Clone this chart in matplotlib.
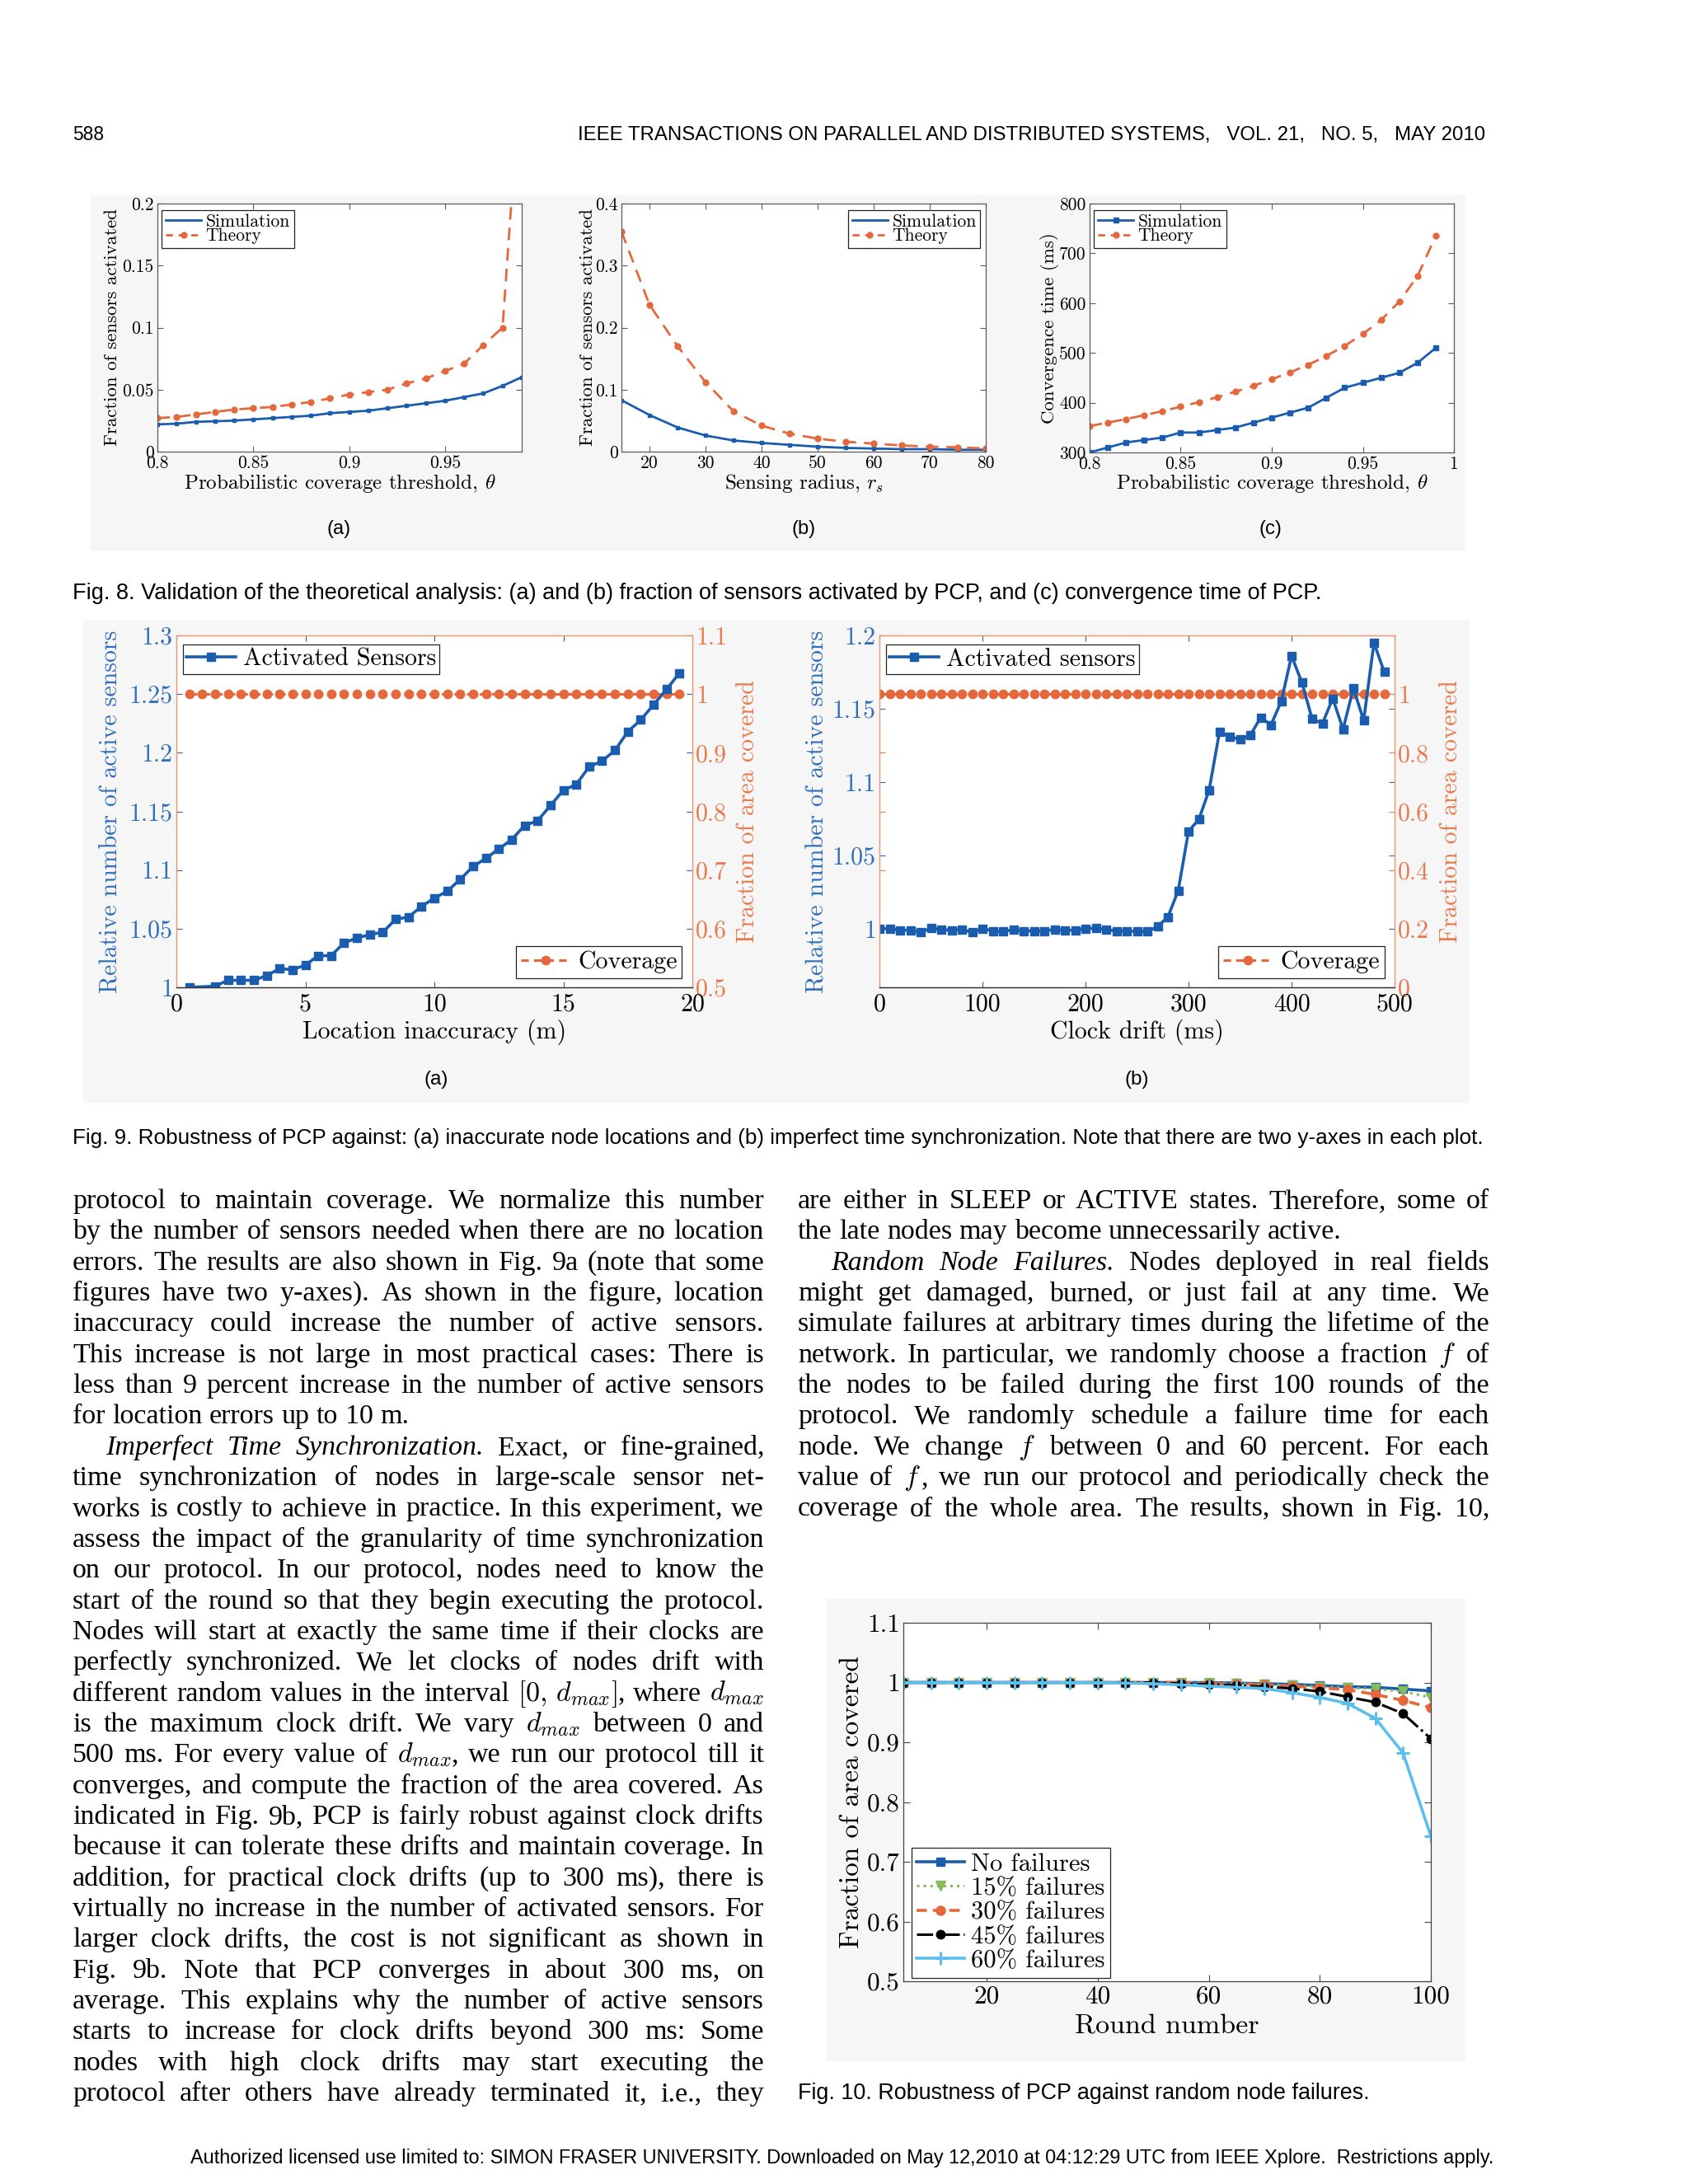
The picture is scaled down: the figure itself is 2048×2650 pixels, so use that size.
import re
import matplotlib
matplotlib.use("Agg")
import matplotlib.pyplot as plt
from matplotlib.transforms import IdentityTransform
from matplotlib.ticker import FuncFormatter
from matplotlib.patches import Rectangle

W, H = 2048, 2650
plt.rcParams['mathtext.fontset'] = 'cm'
plt.rcParams['font.family'] = 'cmr10'
plt.rcParams['axes.formatter.use_mathtext'] = True
plt.rcParams['axes.unicode_minus'] = False

# ---------------- data ----------------
# Fig. 8(a)
theta_8a = [0.80, 0.81, 0.82, 0.83, 0.84, 0.85, 0.86, 0.87, 0.88, 0.89,
            0.90, 0.91, 0.92, 0.93, 0.94, 0.95, 0.96, 0.97, 0.98, 0.99]
sim_8a = [0.022, 0.0225, 0.024, 0.0245, 0.025, 0.026, 0.027, 0.028, 0.029, 0.031,
          0.032, 0.033, 0.035, 0.037, 0.039, 0.041, 0.044, 0.047, 0.053, 0.060]
theory_8a = [0.027, 0.028, 0.030, 0.032, 0.034, 0.035, 0.036, 0.038, 0.040, 0.043,
             0.046, 0.048, 0.050, 0.055, 0.059, 0.065, 0.071, 0.086, 0.100, 0.320]
# Fig. 8(b)
radius_8b = [15, 20, 25, 30, 35, 40, 45, 50, 55, 60, 65, 70, 75, 80]
sim_8b = [0.083, 0.059, 0.039, 0.026, 0.018, 0.014, 0.011, 0.008, 0.006, 0.005,
          0.004, 0.004, 0.003, 0.003]
theory_8b = [0.355, 0.237, 0.170, 0.112, 0.065, 0.042, 0.029, 0.021, 0.016, 0.013,
             0.010, 0.008, 0.007, 0.005]
# Fig. 8(c)
theta_8c = [0.80, 0.81, 0.82, 0.83, 0.84, 0.85, 0.86, 0.87, 0.88, 0.89,
            0.90, 0.91, 0.92, 0.93, 0.94, 0.95, 0.96, 0.97, 0.98, 0.99]
sim_8c = [300, 310, 320, 325, 330, 340, 340, 345, 350, 360,
          370, 380, 390, 410, 430, 440, 450, 460, 480, 510]
theory_8c = [353, 360, 367, 375, 383, 392, 401, 411, 422, 434,
             447, 461, 476, 494, 514, 538, 566, 603, 654, 735]
# Fig. 9(a)
loc_err_9a = [0.5, 1.5, 2.0, 2.5, 3.0, 3.5, 4.0, 4.5, 5.0, 5.5, 6.0, 6.5, 7.0,
              7.5, 8.0, 8.5, 9.0, 9.5, 10.0, 10.5, 11.0, 11.5, 12.0, 12.5, 13.0,
              13.5, 14.0, 14.5, 15.0, 15.5, 16.0, 16.5, 17.0, 17.5, 18.0, 18.5,
              19.0, 19.5]
active_9a = [1.000, 1.001, 1.006, 1.006, 1.006, 1.010, 1.016, 1.015, 1.019, 1.027,
             1.027, 1.038, 1.042, 1.045, 1.047, 1.058, 1.060, 1.069, 1.076, 1.082,
             1.092, 1.103, 1.110, 1.118, 1.126, 1.138, 1.142, 1.155, 1.168, 1.173,
             1.188, 1.193, 1.202, 1.218, 1.228, 1.241, 1.254, 1.268]
cov_x_9a = [0.5, 1.0, 1.5, 2.0, 2.5, 3.0, 3.5, 4.0, 4.5, 5.0, 5.5, 6.0, 6.5, 7.0,
            7.5, 8.0, 8.5, 9.0, 9.5, 10.0, 10.5, 11.0, 11.5, 12.0, 12.5, 13.0,
            13.5, 14.0, 14.5, 15.0, 15.5, 16.0, 16.5, 17.0, 17.5, 18.0, 18.5,
            19.0, 19.5]
coverage_9a = [1.0, 1.0, 1.0, 1.0, 1.0, 1.0, 1.0, 1.0, 1.0, 1.0, 1.0, 1.0, 1.0,
               1.0, 1.0, 1.0, 1.0, 1.0, 1.0, 1.0, 1.0, 1.0, 1.0, 1.0, 1.0, 1.0,
               1.0, 1.0, 1.0, 1.0, 1.0, 1.0, 1.0, 1.0, 1.0, 1.0, 1.0, 1.0, 1.0]
# Fig. 9(b)
drift_9b = [0, 10, 20, 30, 40, 50, 60, 70, 80, 90, 100, 110, 120, 130, 140, 150,
            160, 170, 180, 190, 200, 210, 220, 230, 240, 250, 260, 270, 280, 290,
            300, 310, 320, 330, 340, 350, 360, 370, 380, 390, 400, 410, 420, 430,
            440, 450, 460, 470, 480, 490]
active_9b = [1.000, 1.000, 0.999, 0.999, 0.9975, 1.0004, 0.9994, 0.999, 0.9994, 0.9975,
             1.000, 0.9985, 0.998, 0.9994, 0.9985, 0.9985, 0.9985, 0.9994, 0.999, 0.999,
             1.000, 1.0004, 0.9994, 0.9985, 0.9985, 0.998, 0.998, 1.0015, 1.008, 1.026,
             1.0665, 1.0745, 1.0945, 1.134, 1.131, 1.129, 1.132, 1.144, 1.139, 1.155,
             1.186, 1.168, 1.143, 1.140, 1.157, 1.136, 1.164, 1.142, 1.195, 1.175]
coverage_9b = [1.0, 1.0, 1.0, 1.0, 1.0, 1.0, 1.0, 1.0, 1.0, 1.0, 1.0, 1.0, 1.0,
               1.0, 1.0, 1.0, 1.0, 1.0, 1.0, 1.0, 1.0, 1.0, 1.0, 1.0, 1.0, 1.0,
               1.0, 1.0, 1.0, 1.0, 1.0, 1.0, 1.0, 1.0, 1.0, 1.0, 1.0, 1.0, 1.0,
               1.0, 1.0, 1.0, 1.0, 1.0, 1.0, 1.0, 1.0, 1.0, 1.0, 1.0]
# Fig. 10
rounds_10 = [5, 10, 15, 20, 25, 30, 35, 40, 45, 50, 55, 60, 65, 70, 75, 80, 85, 90, 95, 100]
fail_00 = [1.0, 1.0, 1.0, 1.0, 1.0, 1.0, 1.0, 1.0, 1.0, 1.0, 1.0, 1.0,
           0.999, 0.998, 0.997, 0.995, 0.993, 0.992, 0.989, 0.986]
fail_15 = [1.0, 1.0, 1.0, 1.0, 1.0, 1.0, 1.0, 1.0, 1.0, 1.0, 1.0, 0.999,
           0.998, 0.997, 0.995, 0.993, 0.991, 0.989, 0.985, 0.975]
fail_30 = [1.0, 1.0, 1.0, 1.0, 1.0, 1.0, 1.0, 1.0, 1.0, 1.0, 1.0, 0.998,
           0.998, 0.996, 0.994, 0.991, 0.988, 0.980, 0.970, 0.958]
fail_45 = [1.0, 1.0, 1.0, 1.0, 1.0, 1.0, 1.0, 1.0, 1.0, 1.0, 0.998, 0.997,
           0.995, 0.993, 0.990, 0.985, 0.976, 0.967, 0.948, 0.906]
fail_60 = [1.0, 1.0, 1.0, 1.0, 1.0, 1.0, 1.0, 1.0, 0.999, 0.998, 0.996, 0.994,
           0.992, 0.990, 0.983, 0.975, 0.965, 0.940, 0.882, 0.743]
fail_labels = ['No failures', '15% failures', '30% failures', '45% failures', '60% failures']

# ---------------- text ----------------
HEADER_LEFT = "588"
HEADER_RIGHT = "IEEE TRANSACTIONS ON PARALLEL AND DISTRIBUTED SYSTEMS,   VOL. 21,   NO. 5,   MAY 2010"
CAP8 = "Fig. 8. Validation of the theoretical analysis: (a) and (b) fraction of sensors activated by PCP, and (c) convergence time of PCP."
CAP9 = "Fig. 9. Robustness of PCP against: (a) inaccurate node locations and (b) imperfect time synchronization. Note that there are two y-axes in each plot."
CAP10 = "Fig. 10. Robustness of PCP against random node failures."
FOOTER = "Authorized licensed use limited to: SIMON FRASER UNIVERSITY. Downloaded on May 12,2010 at 04:12:29 UTC from IEEE Xplore.  Restrictions apply."

LEFT_LINES = [
    "protocol to maintain coverage. We normalize this number",
    "by the number of sensors needed when there are no location",
    "errors. The results are also shown in Fig. 9a (note that some",
    "figures have two y-axes). As shown in the figure, location",
    "inaccuracy could increase the number of active sensors.",
    "This increase is not large in most practical cases: There is",
    "less than 9 percent increase in the number of active sensors",
    "for location errors up to 10 m.",
    "*Imperfect *Time *Synchronization. Exact, or fine-grained,",
    "time synchronization of nodes in large-scale sensor net-",
    "works is costly to achieve in practice. In this experiment, we",
    "assess the impact of the granularity of time synchronization",
    "on our protocol. In our protocol, nodes need to know the",
    "start of the round so that they begin executing the protocol.",
    "Nodes will start at exactly the same time if their clocks are",
    "perfectly synchronized. We let clocks of nodes drift with",
    r"different random values in the interval $[0,\,d_{max}]$, where $d_{max}$",
    r"is the maximum clock drift. We vary $d_{max}$ between 0 and",
    r"500 ms. For every value of $d_{max}$, we run our protocol till it",
    "converges, and compute the fraction of the area covered. As",
    "indicated in Fig. 9b, PCP is fairly robust against clock drifts",
    "because it can tolerate these drifts and maintain coverage. In",
    "addition, for practical clock drifts (up to 300 ms), there is",
    "virtually no increase in the number of activated sensors. For",
    "larger clock drifts, the cost is not significant as shown in",
    "Fig. 9b. Note that PCP converges in about 300 ms, on",
    "average. This explains why the number of active sensors",
    "starts to increase for clock drifts beyond 300 ms: Some",
    "nodes with high clock drifts may start executing the",
    "protocol after others have already terminated it, i.e., they",
]
LEFT_RAGGED = {7}
LEFT_INDENT = {8}
RIGHT_LINES = [
    "are either in SLEEP or ACTIVE states. Therefore, some of",
    "the late nodes may become unnecessarily active.",
    "*Random *Node *Failures. Nodes deployed in real fields",
    "might get damaged, burned, or just fail at any time. We",
    "simulate failures at arbitrary times during the lifetime of the",
    "network. In particular, we randomly choose a fraction $f$ of",
    "the nodes to be failed during the first 100 rounds of the",
    "protocol. We randomly schedule a failure time for each",
    "node. We change $f$ between 0 and 60 percent. For each",
    "value of $f$, we run our protocol and periodically check the",
    "coverage of the whole area. The results, shown in Fig. 10,",
]
RIGHT_RAGGED = {1}
RIGHT_INDENT = {2}

# ---------------- style ----------------
BLUE = '#1a5cad'
ORANGE = '#e4683c'
BLUE_T = '#2f6dbd'
ORANGE_T = '#ea7a4c'
GREEN = '#86ba5a'
LBLUE = '#5cbfeb'
GRID_C = '#5a5a5a'
fmt = FuncFormatter(lambda v, p: '%g' % v)

fig = plt.figure(figsize=(W / 100, H / 100), dpi=100)
fig.patch.set_facecolor('white')
R = fig.canvas.get_renderer()
ID = IdentityTransform()


def px_rect(x0, y0, x1, y1):
    return [x0 / W, 1 - y1 / H, (x1 - x0) / W, (y1 - y0) / H]


def add_ax(x0, y0, x1, y1):
    return fig.add_axes(px_rect(x0, y0, x1, y1))


def bg(x0, y0, x1, y1, c='#f6f6f6'):
    fig.patches.append(Rectangle((x0, H - y1), x1 - x0, y1 - y0, transform=ID,
                                 facecolor=c, edgecolor='none', zorder=-10))


def box_style(ax, tsize, color=GRID_C, tlen=5):
    for s in ax.spines.values():
        s.set_color(color)
        s.set_linewidth(0.9)
    ax.tick_params(direction='in', top=True, right=True, length=tlen, width=0.8,
                   color=color, labelcolor='black', labelsize=tsize, pad=3)
    ax.xaxis.set_major_formatter(fmt)
    ax.yaxis.set_major_formatter(fmt)


def set_labels(ax, xl, yl, xpos, ypos, xsize, ysize, ycolor='black'):
    ax.set_xlabel(xl, fontsize=xsize)
    ax.set_ylabel(yl, fontsize=ysize, color=ycolor)
    ax.xaxis.label.set_va('center')
    ax.yaxis.label.set_va('center')
    ax.xaxis.set_label_coords(0.5, xpos)
    ax.yaxis.set_label_coords(ypos, 0.5)


def legend(ax, handles, labels, loc, anchor, size, lspace=-0.1, hlen=2.0):
    lg = ax.legend(handles, labels, loc=loc, bbox_to_anchor=anchor, borderaxespad=0,
                   fontsize=size, fancybox=False, framealpha=1, edgecolor='#222222',
                   labelspacing=lspace, handlelength=hlen, handletextpad=0.25,
                   borderpad=0.22)
    lg.get_frame().set_linewidth(0.9)
    return lg


# ---------------- backgrounds ----------------
bg(110, 237, 1778, 668)
bg(101, 752, 1783, 1338)
bg(1002, 1940, 1778, 2501)

# ---------------- Fig 8 ----------------
def fig8(ax, x, sim, th, sim_marker, ms_sim):
    l1, = ax.plot(x, sim, '-', color=BLUE, lw=2.0, marker=sim_marker, ms=ms_sim)
    l2, = ax.plot(x, th, '--', color=ORANGE, lw=2.0, marker='o', ms=5, dashes=(5.5, 3.5))
    return l1, l2

F8_TICK, F8_XL, F8_YL, F8_LEG = 15.5, 18, 16.5, 15.5
ax8a = add_ax(191, 247, 633, 548)
ax8a.set_facecolor('white')
fig8(ax8a, theta_8a, sim_8a, theory_8a, 's', 2.5)
ax8a.set_xlim(0.8, 0.99)
ax8a.set_ylim(0, 0.2)
ax8a.set_xticks([0.8, 0.85, 0.9, 0.95])
ax8a.set_yticks([0, 0.05, 0.1, 0.15, 0.2])
box_style(ax8a, F8_TICK)
set_labels(ax8a, r'Probabilistic coverage threshold, $\theta$', 'Fraction of sensors activated',
           -0.128, -0.125, F8_XL, F8_YL)
lg_h = [plt.Line2D([], [], color=BLUE, lw=2.0),
        plt.Line2D([], [], color=ORANGE, lw=2.0, ls='--', marker='o', ms=5, dashes=(3, 2.5))]
legend(ax8a, lg_h, ['Simulation', 'Theory'], 'upper left', (0.012, 0.975), F8_LEG)

ax8b = add_ax(754, 247, 1196, 548)
ax8b.set_facecolor('white')
fig8(ax8b, radius_8b, sim_8b, theory_8b, 's', 2.5)
ax8b.set_xlim(15, 80)
ax8b.set_ylim(0, 0.4)
ax8b.set_xticks([20, 30, 40, 50, 60, 70, 80])
ax8b.set_yticks([0, 0.1, 0.2, 0.3, 0.4])
box_style(ax8b, F8_TICK)
set_labels(ax8b, r'Sensing radius, $r_s$', 'Fraction of sensors activated', -0.128, -0.093,
           F8_XL, F8_YL)
legend(ax8b, lg_h, ['Simulation', 'Theory'], 'upper right', (0.985, 0.975), F8_LEG)

ax8c = add_ax(1322, 247, 1764, 549)
ax8c.set_facecolor('white')
fig8(ax8c, theta_8c, sim_8c, theory_8c, 's', 5)
ax8c.set_xlim(0.8, 1.0)
ax8c.set_ylim(300, 800)
ax8c.set_xticks([0.8, 0.85, 0.9, 0.95, 1.0])
ax8c.set_yticks([300, 400, 500, 600, 700, 800])
box_style(ax8c, F8_TICK)
set_labels(ax8c, r'Probabilistic coverage threshold, $\theta$', 'Convergence time (ms)',
           -0.123, -0.11, F8_XL, F8_YL)
lg_hc = [plt.Line2D([], [], color=BLUE, lw=2.0, marker='s', ms=5),
         plt.Line2D([], [], color=ORANGE, lw=2.0, ls='--', marker='o', ms=5, dashes=(3, 2.5))]
legend(ax8c, lg_hc, ['Simulation', 'Theory'], 'upper left', (0.012, 0.975), F8_LEG)

# ---------------- Fig 9 ----------------
def fig9(box, xs, act, cxs, cov, xlim, xticks, y1lim, y1ticks, y2lim, y2ticks, act_label, xlabel):
    ax1 = add_ax(*box)
    ax2 = ax1.twinx()
    ax2.set_facecolor('white')
    ax2.patch.set_visible(True)
    lc, = ax2.plot(cxs, cov, '--', color=ORANGE, lw=2.2, marker='o', ms=7.5, dashes=(3, 2))
    la, = ax1.plot(xs, act, '-', color=BLUE, lw=2.6, marker='s', ms=7)
    ax1.set_zorder(ax2.get_zorder() + 1)
    ax1.patch.set_visible(False)
    ax1.set_xlim(*xlim)
    ax1.set_xticks(xticks)
    ax1.set_ylim(*y1lim)
    ax1.set_yticks(y1ticks)
    ax2.set_ylim(*y2lim)
    ax2.set_yticks(y2ticks)
    for a in (ax1, ax2):
        a.xaxis.set_major_formatter(fmt)
        a.yaxis.set_major_formatter(fmt)
        for nm, s in a.spines.items():
            s.set_linewidth(0.9)
            s.set_color('#e89a78' if nm != 'bottom' else '#333333')
    ax1.tick_params(axis='x', direction='in', top=True, length=5, color='#555555',
                    labelsize=21.5, pad=5)
    ax1.tick_params(axis='y', direction='in', left=True, right=True, length=5,
                    color=BLUE_T, labelcolor=BLUE_T, labelsize=21.5, pad=3)
    ax2.tick_params(axis='y', direction='in', left=True, right=True, length=5,
                    color=ORANGE_T, labelcolor=ORANGE_T, labelsize=21.5, pad=3)
    ax1.set_xlabel(xlabel, fontsize=21.5)
    ax1.xaxis.label.set_va('center')
    ax1.xaxis.set_label_coords(0.5, -0.128)
    ax1.set_ylabel('Relative number of active sensors', fontsize=21.5, color=BLUE_T)
    ax1.yaxis.label.set_va('center')
    ax2.set_ylabel('Fraction of area covered', fontsize=21.5, color=ORANGE_T, rotation=90)
    ax2.yaxis.label.set_va('center')
    lg1 = ax1.legend([la], [act_label], loc='upper left', bbox_to_anchor=(0.012, 0.975),
                     borderaxespad=0, fontsize=21.5, fancybox=False, framealpha=1,
                     edgecolor='#222222', handlelength=2.0, handletextpad=0.3, borderpad=0.15)
    lg1.get_frame().set_linewidth(0.9)
    lg2 = ax2.legend([lc], ['Coverage'], loc='lower right', bbox_to_anchor=(0.98, 0.025),
                     borderaxespad=0, fontsize=21.5, fancybox=False, framealpha=1,
                     edgecolor='#222222', handlelength=2.0, handletextpad=0.3, borderpad=0.2)
    lg2.get_frame().set_linewidth(0.9)
    return ax1, ax2

a1, a2 = fig9((214, 771, 840, 1198), loc_err_9a, active_9a, cov_x_9a, coverage_9a,
              (0, 20), [0, 5, 10, 15, 20], (1.0, 1.3), [1, 1.05, 1.1, 1.15, 1.2, 1.25, 1.3],
              (0.5, 1.1), [0.5, 0.6, 0.7, 0.8, 0.9, 1.0, 1.1], 'Activated Sensors',
              'Location inaccuracy (m)')
a1.yaxis.set_label_coords(-0.126, 0.5)
a2.yaxis.set_label_coords(1.107, 0.5)
b1, b2 = fig9((1067, 771, 1692, 1198), drift_9b, active_9b, drift_9b, coverage_9b,
              (0, 500), [0, 100, 200, 300, 400, 500], (0.96, 1.2), [1, 1.05, 1.1, 1.15, 1.2],
              (0, 1.2), [0, 0.2, 0.4, 0.6, 0.8, 1.0], 'Activated sensors', 'Clock drift (ms)')
b1.yaxis.set_label_coords(-0.12, 0.5)
b2.yaxis.set_label_coords(1.11, 0.5)

# ---------------- Fig 10 ----------------
ax10 = add_ax(1096, 1969, 1736, 2404)
ax10.set_facecolor('white')
l0, = ax10.plot(rounds_10, fail_00, '-', color=BLUE, lw=2.6, marker='s', ms=7)
l1, = ax10.plot(rounds_10, fail_15, ':', color=GREEN, lw=2.2, marker='v', ms=8)
l2, = ax10.plot(rounds_10, fail_30, '--', color=ORANGE, lw=2.6, marker='o', ms=8, dashes=(3.5, 2))
l3, = ax10.plot(rounds_10, fail_45, '-.', color='black', lw=2.2, marker='o', ms=7.5)
l4, = ax10.plot(rounds_10, fail_60, '-', color=LBLUE, lw=2.6, marker='+', ms=11, mew=2.2)
ax10.set_xlim(5, 100)
ax10.set_ylim(0.5, 1.1)
ax10.set_xticks([20, 40, 60, 80, 100])
ax10.set_yticks([0.5, 0.6, 0.7, 0.8, 0.9, 1.0, 1.1])
box_style(ax10, 22.5, color='#444444', tlen=6)
set_labels(ax10, 'Round number', 'Fraction of area covered', -0.126, -0.097, 24.5, 24)
legend(ax10, [l0, l1, l2, l3, l4], fail_labels, 'lower left', (0.015, 0.01), 22,
       lspace=0.06, hlen=1.9)

# ---------------- text helpers ----------------
def fit_text(s, x0, x1, yc, family, size, style='normal'):
    t = fig.text(x0, H - yc, s, fontsize=size, family=family, style=style,
                 transform=ID, ha='left', va='center')
    w = t.get_window_extent(R).width
    t.set_fontsize(size * (x1 - x0) / w)
    return t


def center_text(s, xc, yc, family, size):
    return fig.text(xc, H - yc, s, fontsize=size, family=family, transform=ID,
                    ha='center', va='center')


def parse_word(w):
    ital = w.startswith('*')
    if ital:
        w = w[1:]
    segs = []
    for p in re.split(r'(\$[^$]*\$)', w):
        if not p:
            continue
        segs.append((p, 'math' if p.startswith('$') else ('it' if ital else 'rm')))
    return segs


BODY_FONT = 'Liberation Serif'


def draw_line(s, x0, x1, ybase, size, justify):
    words = [parse_word(w) for w in s.split(' ')]
    while True:
        arts = []
        widths = []
        for segs in words:
            row = []
            tot = 0
            for txt, kind in segs:
                t = fig.text(0, H - ybase, txt, fontsize=size, family=BODY_FONT,
                             style='italic' if kind == 'it' else 'normal',
                             transform=ID, ha='left', va='baseline')
                wd = t.get_window_extent(R).width
                row.append((t, wd))
                tot += wd
            arts.append(row)
            widths.append(tot)
        sp = size * 100 / 72 * 0.25
        gaps = len(words) - 1
        total = sum(widths)
        avail = x1 - x0
        if justify and gaps > 0:
            gap = (avail - total) / gaps
        else:
            gap = sp
        if gap < 0.6 * sp and gaps > 0:
            for row in arts:
                for t, _ in row:
                    t.remove()
            size *= (avail - gaps * 0.65 * sp) / total
            continue
        x = x0
        for row in arts:
            for t, wd in row:
                t.set_x(x)
                x += wd
            x += gap
        return


def draw_column(lines, ragged, indent, x0, x1, y0, pitch, size):
    for i, s in enumerate(lines):
        xs = x0 + (40 if i in indent else 0)
        draw_line(s, xs, x1, y0 + i * pitch, size, i not in ragged)


# ---------------- page text ----------------
fit_text(HEADER_LEFT, 88, 126, 164, 'Liberation Sans', 17)
fit_text(HEADER_RIGHT, 701, 1805, 164, 'Liberation Sans', 17)
fit_text(CAP8, 88, 1605, 720, 'Liberation Sans', 17)
fit_text(CAP9, 88, 1808, 1381, 'Liberation Sans', 17)
fit_text(CAP10, 968, 1663, 2540, 'Liberation Sans', 17)
fit_text(FOOTER, 231, 1812, 2619, 'Liberation Sans', 16)
for lab, xc in (('(a)', 411), ('(b)', 975), ('(c)', 1541)):
    center_text(lab, xc, 642, 'Liberation Sans', 17)
center_text('(a)', 529, 1310, 'Liberation Sans', 17.5)
center_text('(b)', 1379, 1310, 'Liberation Sans', 17.5)

draw_column(LEFT_LINES, LEFT_RAGGED, LEFT_INDENT, 88, 927, 1466, 37.35, 24.5)
draw_column(RIGHT_LINES, RIGHT_RAGGED, RIGHT_INDENT, 968, 1807, 1466, 37.35, 24.5)

fig.savefig('out.png', dpi=100, facecolor='white')
